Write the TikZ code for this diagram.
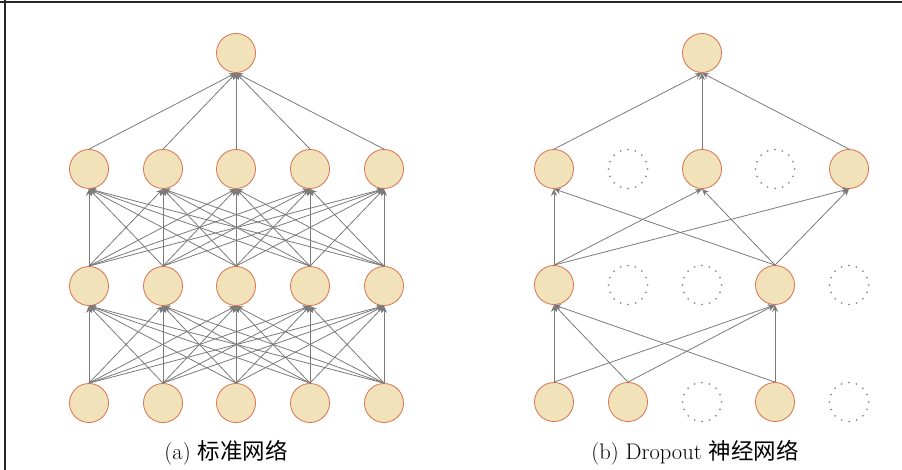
\documentclass[tikz,border=0pt]{standalone}
\usepackage{fontspec}
\newfontfamily\cjk{Noto Sans CJK SC}
\usetikzlibrary{arrows.meta}

\definecolor{neuronfill}{HTML}{F2E2BA}
\definecolor{neurondraw}{HTML}{D8704E}
\definecolor{edgegray}{HTML}{7A7A7A}

\tikzset{
    neuron/.style={circle,minimum size=39pt,inner sep=0pt,fill=neuronfill,draw=neurondraw,line width=0.8pt},
    dropped/.style={circle,minimum size=39pt,inner sep=0pt,draw=gray!90,line width=2pt,dash pattern=on 0pt off 7.65pt,line cap=round},
    link/.style={draw=edgegray,line width=0.8pt,-{Stealth[length=7pt,width=6pt]}},
    caption/.style={font=\fontsize{22.5}{27}\selectfont}
}

\begin{document}
\begin{tikzpicture}[x=1pt,y=-1pt]
        \useasboundingbox (0,0) rectangle (902,470);
        % frame
        \draw[line width=1.2pt,black!85] (0,2) -- (902,2);
        \draw[line width=1.2pt,black!85] (5,0) -- (5,470);

        % (a) standard network
        \node[neuron] (a-out) at (236,53) {};
        \foreach \i/\x in {1/89,2/163,3/236,4/310,5/384} {
            \node[neuron] (a-h2-\i) at (\x,169) {};
            \node[neuron] (a-h1-\i) at (\x,286) {};
            \node[neuron] (a-in-\i) at (\x,403) {};
        }
        \foreach \i in {1,...,5} {
            \draw[link] (a-h2-\i.north) -- (a-out.south);
            \foreach \j in {1,...,5} {
                \draw[link] (a-h1-\i.north) -- (a-h2-\j.south);
                \draw[link] (a-in-\i.north) -- (a-h1-\j.south);
            }
        }
        \node[caption] (cap-a) at (226,453) {(a) {\cjk 标准网络}};

        % (b) dropout network
        \node[neuron] (b-out) at (702,53) {};
        \foreach \i/\x/\kind in {1/554/neuron,2/628/dropped,3/702/neuron,4/775/dropped,5/849/neuron}
            \node[\kind] (b-h2-\i) at (\x,169) {};
        \foreach \i/\x/\kind in {1/554/neuron,2/628/dropped,3/702/dropped,4/775/neuron,5/849/dropped}
            \node[\kind] (b-h1-\i) at (\x,285) {};
        \foreach \i/\x/\kind in {1/554/neuron,2/628/neuron,3/702/dropped,4/775/neuron,5/849/dropped}
            \node[\kind] (b-in-\i) at (\x,402) {};
        \foreach \i in {1,3,5} {
            \draw[link] (b-h2-\i.north) -- (b-out.south);
            \foreach \j in {1,4}
                \draw[link] (b-h1-\j.north) -- (b-h2-\i.south);
        }
        \foreach \i in {1,2,4}
            \foreach \j in {1,4}
                \draw[link] (b-in-\i.north) -- (b-h1-\j.south);
        \node[caption] (cap-b) at (695,453) {(b) Dropout {\cjk 神经网络}};
    \end{tikzpicture}
\end{document}
